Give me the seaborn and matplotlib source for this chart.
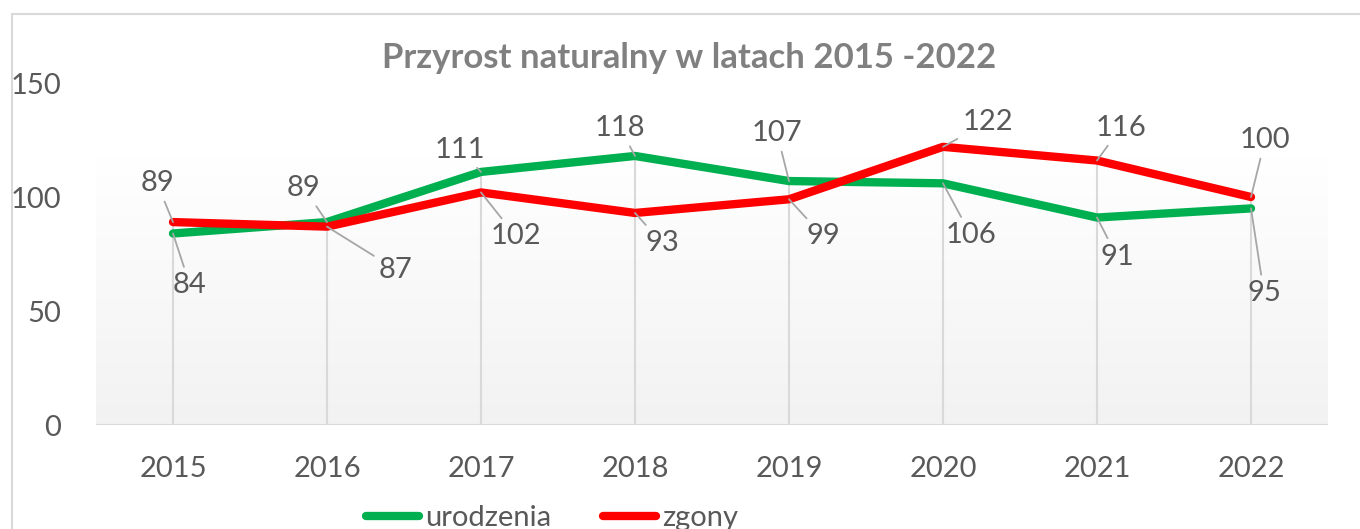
import seaborn as sns
import matplotlib.pyplot as plt
import matplotlib.patches as mpatches
from matplotlib.lines import Line2D
import numpy as np
import pandas as pd

# data
years = [2015, 2016, 2017, 2018, 2019, 2020, 2021, 2022]
urodzenia = [84, 89, 111, 118, 107, 106, 91, 95]
zgony = [89, 87, 102, 93, 99, 122, 116, 100]
series_names = ["urodzenia", "zgony"]

df = pd.DataFrame({
    "rok": years * 2,
    "liczba": urodzenia + zgony,
    "seria": [series_names[0]] * len(years) + [series_names[1]] * len(years),
})

# label offsets in pixels (dx, dy with y up), placed like the Excel labels
off_u = [(17, -52), (-23, 34), (-21, 22), (-15, 28), (-12, 48), (28, -52), (20, -39), (13, -85)]
off_z = [(-16, 39), (69, -43), (35, -44), (27, -30), (34, -37), (45, 25), (24, 33), (14, 57)]

sns.set_theme(style="white")
plt.rcParams["font.family"] = ["Lato", "DejaVu Sans"]

W, H = 1360, 529
fig = plt.figure(figsize=(W / 100, H / 100), dpi=100)
ax = fig.add_axes([96 / W, 1 - 425 / H, (1328 - 96) / W, (425 - 83) / H])

colors = {"urodzenia": "#00b050", "zgony": "#ff0000"}
text_col = "#595959"
grid_col = "#d9d9d9"
fs = 21

# chart frame
fig.patches.append(mpatches.Rectangle((12 / W, -0.1), 1.2, 1 - 14 / H + 0.1,
                                      transform=fig.transFigure, fill=False,
                                      edgecolor=grid_col, linewidth=1.5))

ax.set_xlim(years[0] - 0.5, years[-1] + 0.5)
ax.set_ylim(0, 150)

# gradient plot-area fill
grad = np.linspace(0, 1, 256).reshape(-1, 1)
ax.imshow(grad, extent=(years[0] - 0.5, years[-1] + 0.5, 0, 118), aspect="auto",
          cmap=sns.blend_palette(["#f2f2f2", "#ffffff"], as_cmap=True),
          origin="lower", zorder=0)

# drop lines
tops = np.maximum(urodzenia, zgony)
ax.vlines(years, 0, tops, color=grid_col, linewidth=1.5, zorder=1)

sns.lineplot(data=df, x="rok", y="liczba", hue="seria", palette=colors,
             linewidth=6, ax=ax, legend=False, zorder=3,
             solid_capstyle="round", solid_joinstyle="round")

for vals, offs in ((urodzenia, off_u), (zgony, off_z)):
    for x, v, (dx, dy) in zip(years, vals, offs):
        ax.annotate(str(v), xy=(x, v), xytext=(dx, dy), textcoords="offset pixels",
                    ha="center", va="center", fontsize=fs, color=text_col,
                    bbox=dict(boxstyle="square,pad=0.1", fc="none", ec="none"),
                    arrowprops=dict(arrowstyle="-", color="#a6a6a6", lw=1.3,
                                    shrinkA=2, shrinkB=0), zorder=4)

ax.axhline(0, color=grid_col, linewidth=1.5, zorder=2)
for s in ax.spines.values():
    s.set_visible(False)
ax.set_xticks(years)
ax.set_xticklabels([str(y) for y in years])
ax.set_yticks([0, 50, 100, 150])
ax.tick_params(axis="both", labelsize=fs, labelcolor=text_col, length=0)
ax.tick_params(axis="x", pad=22)
ax.tick_params(axis="y", pad=25)
ax.set_xlabel("")
ax.set_ylabel("")
ax.grid(False)

fig.text(689 / W, 1 - 58 / H, "Przyrost naturalny w latach 2015 -2022",
         ha="center", va="center", fontsize=25, fontweight="bold", color="#808080")

handles = [Line2D([0], [0], color=colors[n], linewidth=6, solid_capstyle="round")
           for n in series_names]
fig.legend(handles, series_names, loc="center", bbox_to_anchor=(552 / W, 1 - 518 / H),
           ncol=2, frameon=False, fontsize=fs, labelcolor=text_col,
           handlelength=1.8, handletextpad=0.2, columnspacing=1.8)

fig.savefig("out.png", dpi=100)
